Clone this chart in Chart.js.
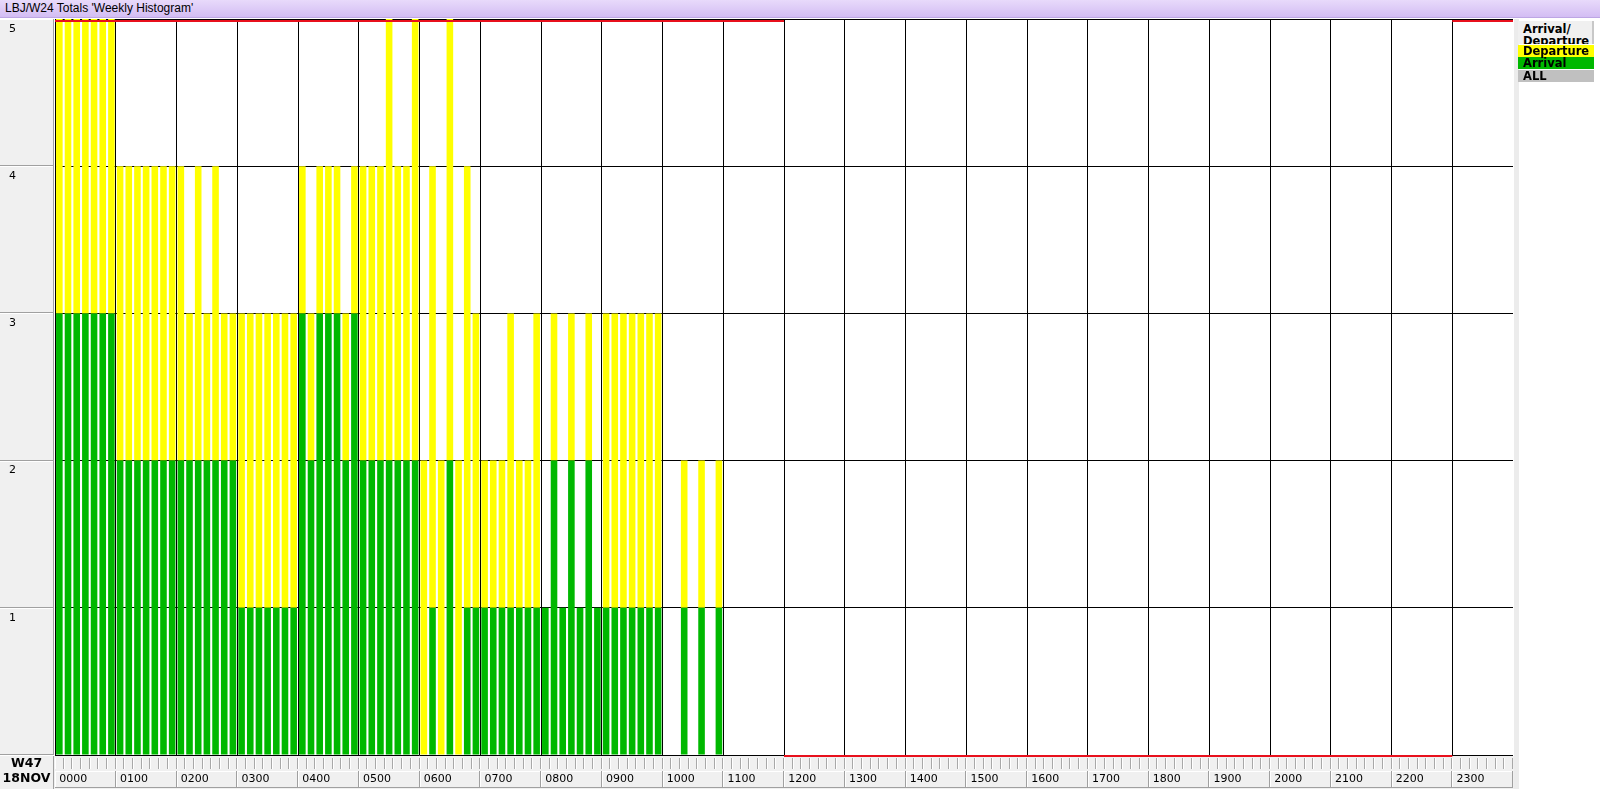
<!DOCTYPE html>
<html>
<head>
<meta charset="utf-8">
<script src="https://cdn.jsdelivr.net/npm/chart.js@4.4.0/dist/chart.umd.min.js"></script>
<style>
  html, body { margin: 0; padding: 0; background: #fff; }
  #wrap { position: relative; width: 1600px; height: 789px; overflow: hidden; }
  #title {
    position: absolute; left: 0; top: 0; width: 1600px; height: 18px; box-sizing: border-box;
    background: linear-gradient(#e8dafb, #d3bdf3); border-bottom: 1px solid #bda6e4;
    font: 12px "Liberation Sans", sans-serif; line-height: 17px; padding-left: 5px; color: #000;
  }
  #c { position: absolute; left: 0; top: 0; }
  #legend { position: absolute; left: 1518px; top: 21px; width: 76px; font: bold 11.5px "DejaVu Sans", sans-serif; }
  #legend .head {
    height: 23px; overflow: hidden; background: #f0f0f0; line-height: 12px; padding: 2px 0 0 5px;
    box-sizing: border-box; border-right: 2px solid #c8c8c8;
  }
  #legend .row { height: 12px; line-height: 12px; padding-left: 5px; margin-top: 0.5px; }
</style>
</head>
<body>
<div id="wrap">
  <canvas id="c" width="1600" height="789"></canvas>
  <div id="title">LBJ/W24 Totals 'Weekly Histogram'</div>
  <div id="legend"></div>
</div>
<script>
const hourLabels = ['0000', '0100', '0200', '0300', '0400', '0500', '0600', '0700', '0800', '0900', '1000', '1100',
  '1200', '1300', '1400', '1500', '1600', '1700', '1800', '1900', '2000', '2100', '2200', '2300'];
const slotsPerHour = 7;
const yTicks = [1, 2, 3, 4, 5];

// arrivals per slot, one row per hour
const arrivals = [
  3, 3, 3, 3, 3, 3, 3,
  2, 2, 2, 2, 2, 2, 2,
  2, 2, 2, 2, 2, 2, 2,
  1, 1, 1, 1, 1, 1, 1,
  3, 2, 3, 3, 3, 2, 3,
  2, 2, 2, 2, 2, 2, 2,
  0, 1, 0, 2, 0, 1, 1,
  1, 1, 1, 1, 1, 1, 1,
  1, 2, 1, 2, 1, 2, 1,
  1, 1, 1, 1, 1, 1, 1,
  0, 0, 1, 0, 1, 0, 1,
  0, 0, 0, 0, 0, 0, 0,
  0, 0, 0, 0, 0, 0, 0,
  0, 0, 0, 0, 0, 0, 0,
  0, 0, 0, 0, 0, 0, 0,
  0, 0, 0, 0, 0, 0, 0,
  0, 0, 0, 0, 0, 0, 0,
  0, 0, 0, 0, 0, 0, 0,
  0, 0, 0, 0, 0, 0, 0,
  0, 0, 0, 0, 0, 0, 0,
  0, 0, 0, 0, 0, 0, 0,
  0, 0, 0, 0, 0, 0, 0,
  0, 0, 0, 0, 0, 0, 0,
  0, 0, 0, 0, 0, 0, 0,
];

// departures per slot (stacked above arrivals)
const departures = [
  2, 2, 2, 2, 2, 2, 2,
  2, 2, 2, 2, 2, 2, 2,
  2, 1, 2, 1, 2, 1, 1,
  2, 2, 2, 2, 2, 2, 2,
  1, 1, 1, 1, 1, 1, 1,
  2, 2, 2, 3, 2, 2, 3,
  2, 3, 2, 3, 2, 3, 2,
  1, 1, 1, 2, 1, 1, 2,
  0, 1, 0, 1, 0, 1, 0,
  2, 2, 2, 2, 2, 2, 2,
  0, 0, 1, 0, 1, 0, 1,
  0, 0, 0, 0, 0, 0, 0,
  0, 0, 0, 0, 0, 0, 0,
  0, 0, 0, 0, 0, 0, 0,
  0, 0, 0, 0, 0, 0, 0,
  0, 0, 0, 0, 0, 0, 0,
  0, 0, 0, 0, 0, 0, 0,
  0, 0, 0, 0, 0, 0, 0,
  0, 0, 0, 0, 0, 0, 0,
  0, 0, 0, 0, 0, 0, 0,
  0, 0, 0, 0, 0, 0, 0,
  0, 0, 0, 0, 0, 0, 0,
  0, 0, 0, 0, 0, 0, 0,
  0, 0, 0, 0, 0, 0, 0,
];

// highlighted hour ranges (red edge lines)
const topMarked = [[0, 12], [23, 24]];
const bottomMarked = [[12, 23]];

const GREEN = '#00b800';
const YELLOW = '#ffff00';

const slotLabels = [];
hourLabels.forEach(h => { for (let s = 0; s < slotsPerHour; s++) slotLabels.push(h + '-' + s); });

const legendRows = [
  { label: 'Departure', bg: YELLOW },
  { label: 'Arrival', bg: GREEN },
  { label: 'ALL', bg: '#c0c0c0' },
];
document.getElementById('legend').innerHTML =
  '<div class="head">Arrival/<br>Departure</div>' +
  legendRows.map(r => `<div class="row" style="background:${r.bg}">${r.label}</div>`).join('');

const panels = {
  id: 'panels',
  beforeDraw(chart) {
    const { ctx, chartArea: a, scales: { x, y } } = chart;
    const H = chart.height;
    ctx.save();
    ctx.fillStyle = '#ffffff';
    ctx.fillRect(0, 0, chart.width, H);
    // strip right of the plot
    ctx.fillStyle = '#ececec';
    ctx.fillRect(a.right + 1, a.top, 5, H - a.top);

    // left value boxes
    yTicks.forEach(v => {
      const y1 = Math.round(y.getPixelForValue(v)), y2 = Math.round(y.getPixelForValue(v - 1));
      ctx.fillStyle = '#f0f0f0';
      ctx.fillRect(0, y1, a.left - 1, y2 - y1);
      ctx.fillStyle = '#ffffff';
      ctx.fillRect(0, y1, a.left - 1, 1);
      ctx.fillStyle = '#a0a0a0';
      ctx.fillRect(0, y2 - 1, a.left - 1, 1);
      ctx.fillRect(a.left - 2, y1, 1, y2 - y1);
    });

    // bottom band
    const b = Math.round(a.bottom) + 1;
    ctx.fillStyle = '#f0f0f0';
    ctx.fillRect(0, b, a.right + 1, H - b);
    ctx.fillStyle = '#a0a0a0';
    ctx.fillRect(a.left - 2, b, 1, H - b);
    ctx.fillStyle = '#000';
    ctx.font = 'bold 12.5px "DejaVu Sans", sans-serif';
    ctx.textAlign = 'center';
    ctx.textBaseline = 'middle';
    ctx.fillText('W47', (a.left - 2) / 2, b + 8);
    ctx.fillText('18NOV', (a.left - 2) / 2, b + 23);

    // slot boxes and hour boxes
    const r1 = b + 2, r2 = b + 15;
    for (let i = 0; i < slotLabels.length; i++) {
      const l = Math.round(x.getPixelForValue(i - 0.5)), r = Math.round(x.getPixelForValue(i + 0.5));
      ctx.fillStyle = '#ffffff';
      ctx.fillRect(l, r1, 1, 11);
      ctx.fillStyle = '#a8a8a8';
      ctx.fillRect(r - 1, r1, 1, 11);
    }
    hourLabels.forEach((h, k) => {
      const l = Math.round(x.getPixelForValue(k * slotsPerHour - 0.5));
      const r = Math.round(x.getPixelForValue((k + 1) * slotsPerHour - 0.5));
      ctx.fillStyle = '#ffffff';
      ctx.fillRect(l, r2, r - l, 1);
      ctx.fillRect(l, r2, 1, 16);
      ctx.fillStyle = '#a0a0a0';
      ctx.fillRect(r - 1, r2, 1, 16);
      ctx.fillRect(l, r2 + 16, r - l, 1);
    });
    ctx.fillStyle = '#ffffff';
    ctx.fillRect(a.left, a.top, a.right - a.left, a.bottom - a.top);
    ctx.restore();
  },
  afterDatasetsDraw(chart) {
    const { ctx, chartArea: a, scales: { x } } = chart;
    const px = h => x.getPixelForValue(h * slotsPerHour - 0.5);
    ctx.save();
    ctx.fillStyle = '#e8101c';
    topMarked.forEach(([s, e]) => ctx.fillRect(px(s), a.top + 1, px(e) - px(s), 2));
    bottomMarked.forEach(([s, e]) => ctx.fillRect(px(s), a.bottom, px(e) - px(s), 2));
    ctx.restore();
  }
};

new Chart(document.getElementById('c'), {
  type: 'bar',
  data: {
    labels: slotLabels,
    datasets: [
      { label: 'Arrival', data: arrivals, backgroundColor: GREEN },
      { label: 'Departure', data: departures, backgroundColor: YELLOW },
    ],
  },
  options: {
    responsive: false,
    animation: false,
    layout: { padding: { top: 19, left: 9, right: 87, bottom: 0 } },
    datasets: { bar: { barPercentage: 0.76, categoryPercentage: 1 } },
    plugins: { legend: { display: false }, tooltip: { enabled: false } },
    scales: {
      x: {
        stacked: true,
        border: { display: false },
        grid: {
          drawTicks: false,
          lineWidth: 1,
          color: ctx => (ctx.index % slotsPerHour === 0 ? '#000000' : 'rgba(0,0,0,0)'),
        },
        ticks: {
          autoSkip: false,
          maxRotation: 0,
          minRotation: 0,
          align: 'start',
          padding: 18,
          color: '#000',
          font: { family: 'DejaVu Sans', size: 11 },
          callback: (v, i) => (i % slotsPerHour === 0 ? hourLabels[i / slotsPerHour] : ''),
        },
        afterFit: s => { s.height = 34; },
      },
      y: {
        stacked: true,
        min: 0,
        max: 5,
        border: { display: false },
        grid: { drawTicks: false, color: '#000000', lineWidth: 1 },
        ticks: {
          stepSize: 1,
          crossAlign: 'far',
          labelOffset: 10,
          color: '#000',
          font: { family: 'DejaVu Sans', size: 11 },
          callback: v => (yTicks.includes(v) ? String(v) : ''),
        },
        afterFit: s => { s.width = 46; },
      },
    },
  },
  plugins: [panels],
});
</script>
</body>
</html>
